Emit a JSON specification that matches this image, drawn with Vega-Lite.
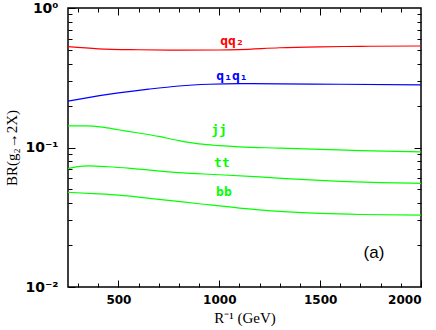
{
  "$schema": "https://vega.github.io/schema/vega-lite/v6.json",
  "width": 353,
  "height": 279,
  "autosize": {"type": "none"},
  "padding": {"left": 68, "top": 8, "right": 15, "bottom": 43},
  "background": "white",
  "config": {
    "view": {"stroke": "black", "strokeWidth": 1.5},
    "axis": {"domain": false, "grid": false, "tickColor": "black", "tickWidth": 1, "labelColor": "black", "titleColor": "black", "labelFont": "DejaVu Sans", "labelFontSize": 12, "labelFontWeight": "bold", "titleFont": "Liberation Serif", "titleFontSize": 15, "titleFontWeight": "normal"}
  },
  "datasets": {
    "curves": [
      {"ch": "qq2", "R": 250, "BR": 0.528}, {"ch": "qq2", "R": 400, "BR": 0.51}, {"ch": "qq2", "R": 600, "BR": 0.502}, {"ch": "qq2", "R": 800, "BR": 0.499}, {"ch": "qq2", "R": 1000, "BR": 0.5}, {"ch": "qq2", "R": 1100, "BR": 0.503}, {"ch": "qq2", "R": 1300, "BR": 0.519}, {"ch": "qq2", "R": 1500, "BR": 0.527}, {"ch": "qq2", "R": 1700, "BR": 0.531}, {"ch": "qq2", "R": 2000, "BR": 0.534},
      {"ch": "q1q1", "R": 250, "BR": 0.215}, {"ch": "q1q1", "R": 350, "BR": 0.228}, {"ch": "q1q1", "R": 500, "BR": 0.246}, {"ch": "q1q1", "R": 650, "BR": 0.262}, {"ch": "q1q1", "R": 800, "BR": 0.276}, {"ch": "q1q1", "R": 950, "BR": 0.284}, {"ch": "q1q1", "R": 1100, "BR": 0.287}, {"ch": "q1q1", "R": 1300, "BR": 0.286}, {"ch": "q1q1", "R": 1600, "BR": 0.284}, {"ch": "q1q1", "R": 2000, "BR": 0.281},
      {"ch": "jj", "R": 250, "BR": 0.143}, {"ch": "jj", "R": 340, "BR": 0.143}, {"ch": "jj", "R": 420, "BR": 0.14}, {"ch": "jj", "R": 500, "BR": 0.134}, {"ch": "jj", "R": 600, "BR": 0.127}, {"ch": "jj", "R": 700, "BR": 0.12}, {"ch": "jj", "R": 800, "BR": 0.112}, {"ch": "jj", "R": 900, "BR": 0.106}, {"ch": "jj", "R": 1000, "BR": 0.103}, {"ch": "jj", "R": 1100, "BR": 0.101}, {"ch": "jj", "R": 1300, "BR": 0.099}, {"ch": "jj", "R": 1500, "BR": 0.097}, {"ch": "jj", "R": 1700, "BR": 0.095}, {"ch": "jj", "R": 2000, "BR": 0.093},
      {"ch": "tt", "R": 250, "BR": 0.0705}, {"ch": "tt", "R": 300, "BR": 0.073}, {"ch": "tt", "R": 350, "BR": 0.0738}, {"ch": "tt", "R": 450, "BR": 0.0728}, {"ch": "tt", "R": 600, "BR": 0.07}, {"ch": "tt", "R": 800, "BR": 0.066}, {"ch": "tt", "R": 1000, "BR": 0.0638}, {"ch": "tt", "R": 1200, "BR": 0.0615}, {"ch": "tt", "R": 1400, "BR": 0.059}, {"ch": "tt", "R": 1600, "BR": 0.0572}, {"ch": "tt", "R": 1800, "BR": 0.056}, {"ch": "tt", "R": 2000, "BR": 0.0554},
      {"ch": "bb", "R": 250, "BR": 0.0477}, {"ch": "bb", "R": 400, "BR": 0.0465}, {"ch": "bb", "R": 500, "BR": 0.0455}, {"ch": "bb", "R": 700, "BR": 0.0425}, {"ch": "bb", "R": 900, "BR": 0.0395}, {"ch": "bb", "R": 1100, "BR": 0.0368}, {"ch": "bb", "R": 1300, "BR": 0.0348}, {"ch": "bb", "R": 1500, "BR": 0.0337}, {"ch": "bb", "R": 1700, "BR": 0.0331}, {"ch": "bb", "R": 2000, "BR": 0.0328}
    ],
    "labels": [
      {"ch": "qq2", "text": "qq₂", "R": 1063, "BR": 0.58},
      {"ch": "q1q1", "text": "q₁q₁", "R": 1063, "BR": 0.326},
      {"ch": "jj", "text": "jj", "R": 999, "BR": 0.133},
      {"ch": "tt", "text": "tt", "R": 1013, "BR": 0.0774},
      {"ch": "bb", "text": "bb", "R": 1023, "BR": 0.048}
    ],
    "panel": [
      {"text": "(a)", "R": 1767, "BR": 0.0175}
    ]
  },
  "resolve": {"axis": {"x": "independent", "y": "independent"}},
  "layer": [
    {
      "data": {"name": "curves"},
      "transform": [{"filter": "datum.ch == 'qq2' || datum.ch == 'q1q1'"}],
      "mark": {"type": "line", "interpolate": "monotone", "strokeWidth": 1.2},
      "encoding": {
        "x": {"field": "R", "type": "quantitative", "scale": {"domain": [250, 2000], "nice": false, "zero": false},
              "axis": {"orient": "bottom", "values": [500, 1000, 1500, 2000], "format": "d", "tickSize": -7, "labelPadding": 14, "title": "R⁻¹  (GeV)", "titlePadding": 5}},
        "y": {"field": "BR", "type": "quantitative", "scale": {"type": "log", "domain": [0.01, 1], "nice": false},
              "axis": {"orient": "left", "values": [0.01, 0.1, 1], "tickSize": -7, "labelPadding": 17, "labelFontSize": 14, "labelExpr": "datum.value < 0.05 ? '10⁻²' : datum.value < 0.5 ? '10⁻¹' : '10⁰'", "title": "BR(g₂→2X)", "titlePadding": 5}},
        "color": {"field": "ch", "type": "nominal", "legend": null,
                  "scale": {"domain": ["qq2", "q1q1", "jj", "tt", "bb"], "range": ["#ff0000", "#0000ff", "#00ff00", "#00ff00", "#00ff00"]}},
        "detail": {"field": "ch"}
      }
    },
    {
      "data": {"name": "curves"},
      "transform": [{"filter": "datum.ch == 'jj' || datum.ch == 'tt' || datum.ch == 'bb'"}],
      "mark": {"type": "line", "interpolate": "monotone", "strokeWidth": 1.2},
      "encoding": {
        "x": {"field": "R", "type": "quantitative",
              "axis": {"orient": "bottom", "values": [300, 400, 600, 700, 800, 900, 1100, 1200, 1300, 1400, 1600, 1700, 1800, 1900], "tickSize": -4, "labels": false, "title": null}},
        "y": {"field": "BR", "type": "quantitative",
              "axis": {"orient": "left", "values": [0.02, 0.03, 0.04, 0.05, 0.06, 0.07, 0.08, 0.09, 0.2, 0.3, 0.4, 0.5, 0.6, 0.7, 0.8, 0.9], "tickSize": -4, "labels": false, "title": null}},
        "color": {"field": "ch", "type": "nominal", "legend": null},
        "detail": {"field": "ch"}
      }
    },
    {
      "data": {"name": "labels"},
      "mark": {"type": "text", "font": "DejaVu Sans Mono", "fontSize": 13, "fontWeight": "bold", "align": "center", "baseline": "middle"},
      "encoding": {
        "x": {"field": "R", "type": "quantitative",
              "axis": {"orient": "top", "values": [500, 1000, 1500], "tickSize": -7, "labels": false, "title": null}},
        "y": {"field": "BR", "type": "quantitative",
              "axis": {"orient": "right", "values": [0.1], "tickSize": -7, "labels": false, "title": null}},
        "text": {"field": "text"},
        "color": {"field": "ch", "type": "nominal", "legend": null}
      }
    },
    {
      "data": {"name": "panel"},
      "mark": {"type": "text", "font": "Liberation Sans", "fontSize": 17, "align": "center", "baseline": "middle", "color": "black"},
      "encoding": {
        "x": {"field": "R", "type": "quantitative",
              "axis": {"orient": "top", "values": [300, 400, 600, 700, 800, 900, 1100, 1200, 1300, 1400, 1600, 1700, 1800, 1900], "tickSize": -4, "labels": false, "title": null}},
        "y": {"field": "BR", "type": "quantitative",
              "axis": {"orient": "right", "values": [0.02, 0.03, 0.04, 0.05, 0.06, 0.07, 0.08, 0.09, 0.2, 0.3, 0.4, 0.5, 0.6, 0.7, 0.8, 0.9], "tickSize": -4, "labels": false, "title": null}},
        "text": {"field": "text"}
      }
    }
  ]
}
